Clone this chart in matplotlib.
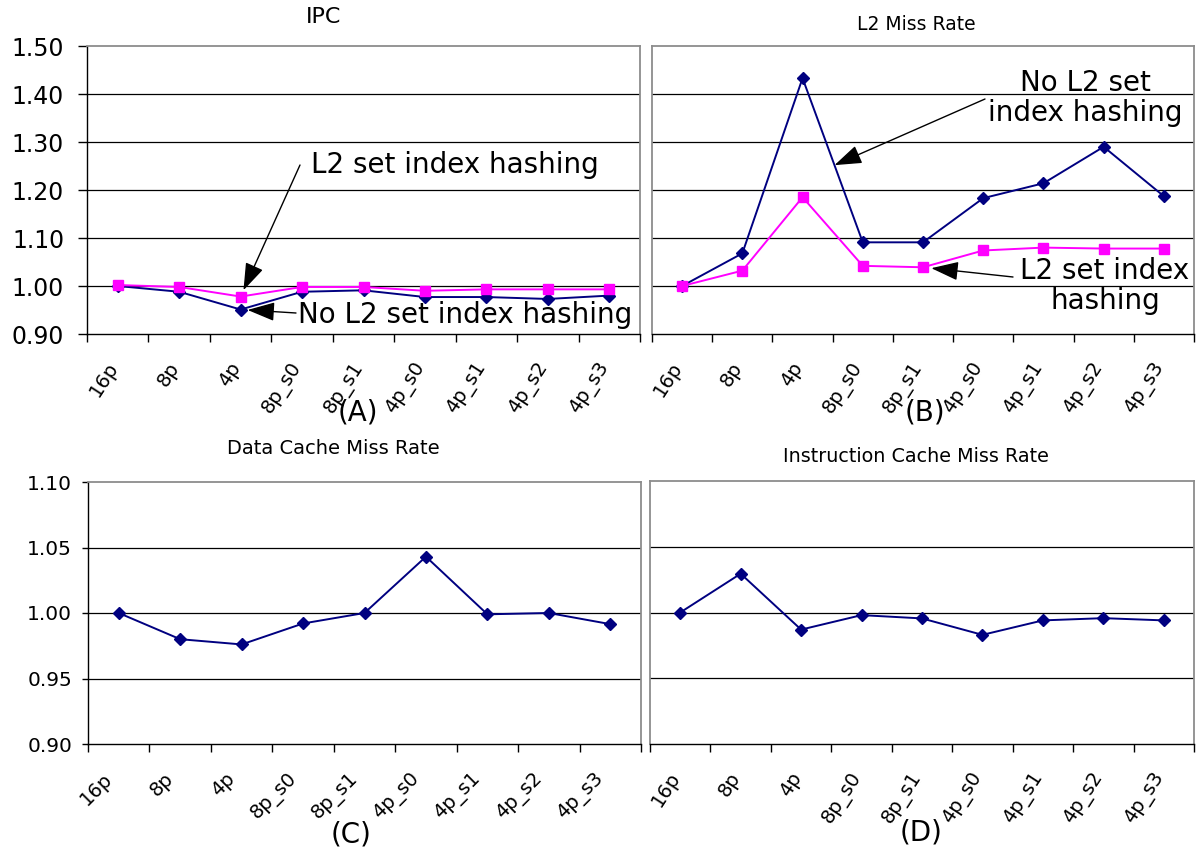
import numpy as np
import matplotlib
matplotlib.use("Agg")
import matplotlib.pyplot as plt
import matplotlib.transforms as mtrans

W, H = 1196, 851

categories = ["16p", "8p", "4p", "8p_s0", "8p_s1", "4p_s0", "4p_s1", "4p_s2", "4p_s3"]

ipc_no_hash = [1.000, 0.988, 0.951, 0.988, 0.991, 0.977, 0.977, 0.973, 0.980]
ipc_hash = [1.002, 0.998, 0.978, 0.998, 0.998, 0.990, 0.993, 0.993, 0.993]

l2_no_hash = [1.000, 1.068, 1.433, 1.091, 1.091, 1.183, 1.214, 1.290, 1.187]
l2_hash = [1.000, 1.032, 1.185, 1.042, 1.039, 1.074, 1.080, 1.078, 1.078]

dcache = [1.000, 0.980, 0.976, 0.992, 1.000, 1.043, 0.999, 1.000, 0.9915]
icache = [1.000, 1.0295, 0.987, 0.998, 0.9955, 0.983, 0.994, 0.9957, 0.994]

top_yticks = [0.90, 1.00, 1.10, 1.20, 1.30, 1.40, 1.50]
bot_yticks = [0.90, 0.95, 1.00, 1.05, 1.10]

NAVY = "#000080"
MAGENTA = "#FF00FF"
GRAY = "#8c8c8c"

plt.rcParams['font.family'] = ['DejaVu Sans']

fig = plt.figure(figsize=(W / 100, H / 100), dpi=100)


def add_ax(l, t, r, b):
    return fig.add_axes([l / W, 1 - b / H, (r - l) / W, (b - t) / H])


def ftext(x, y, s, **kw):
    fig.text(x / W, 1 - y / H, s, **kw)


def style(ax, yticks, show_y, ylab_size, ytick_len, ypad, xlab_size, xpad, rot, xshift):
    n = len(categories)
    xs = np.arange(n) + 0.5
    ax.set_xlim(0, n)
    ax.set_ylim(yticks[0], yticks[-1])
    for v in yticks[1:-1]:
        ax.axhline(v, color="black", lw=0.9, zorder=1)
    ax.set_xticks(np.arange(n + 1))
    ax.set_xticklabels([])
    ax.set_xticks(xs, categories, minor=True)
    ax.tick_params(axis="x", which="major", direction="out", length=6, width=1, color="black")
    ax.tick_params(axis="x", which="minor", length=0, pad=xpad, labelsize=xlab_size)
    off = mtrans.ScaledTranslation(xshift / 100, 0, fig.dpi_scale_trans)
    for lbl in ax.get_xticklabels(minor=True):
        lbl.set_rotation(rot)
        lbl.set_ha("right")
        lbl.set_rotation_mode("anchor")
        lbl.set_transform(lbl.get_transform() + off)
    if show_y:
        ax.set_yticks(yticks, [f"{v:.2f}" for v in yticks])
        ax.tick_params(axis="y", direction="out", length=ytick_len, width=1,
                       labelsize=ylab_size, pad=ypad)
        ax.spines["left"].set_color("black")
        ax.spines["left"].set_linewidth(1.0)
    else:
        ax.set_yticks([])
        ax.spines["left"].set_color(GRAY)
        ax.spines["left"].set_linewidth(1.3)
    ax.spines["bottom"].set_color("black")
    ax.spines["bottom"].set_linewidth(1.0)
    for s in ("top", "right"):
        ax.spines[s].set_color(GRAY)
        ax.spines[s].set_linewidth(1.3)
    return xs


arrow_kw = dict(arrowstyle="-|>,head_length=1.3,head_width=0.45", color="black",
                lw=1.0, mutation_scale=13, shrinkA=0)

# (A) IPC
axA = add_ax(87, 46, 640, 334)
xs = style(axA, top_yticks, True, 17, 6.5, 10, 14, 18, 57, -12)
axA.plot(xs, ipc_no_hash, color=NAVY, lw=1.4, marker="D", ms=6, zorder=3)
axA.plot(xs, ipc_hash, color=MAGENTA, lw=1.4, marker="s", ms=7.5, zorder=4)
axA.annotate("", xy=(xs[2], ipc_hash[2]), xytext=(300, H - 165), textcoords="figure pixels",
             arrowprops=dict(shrinkB=5, **arrow_kw))
axA.annotate("", xy=(xs[2], ipc_no_hash[2]), xytext=(296, H - 313), textcoords="figure pixels",
             arrowprops=dict(shrinkB=5, **arrow_kw))
ftext(311, 165, "L2 set index hashing", fontsize=20, ha="left", va="center")
ftext(298, 315, "No L2 set index hashing", fontsize=20, ha="left", va="center")

# (B) L2 miss rate
axB = add_ax(652, 46, 1194, 334)
xs = style(axB, top_yticks, False, 17, 6.5, 10, 14, 18, 57, -12)
axB.plot(xs, l2_no_hash, color=NAVY, lw=1.4, marker="D", ms=6, zorder=3)
axB.plot(xs, l2_hash, color=MAGENTA, lw=1.4, marker="s", ms=7.5, zorder=4)
t = 0.53
hx = xs[2] + t * (xs[3] - xs[2])
hy = l2_no_hash[2] + t * (l2_no_hash[3] - l2_no_hash[2])
axB.annotate("", xy=(hx, hy), xytext=(985, H - 99), textcoords="figure pixels",
             arrowprops=dict(shrinkB=0, **arrow_kw))
axB.annotate("", xy=(xs[4], l2_hash[4]), xytext=(1013, H - 277), textcoords="figure pixels",
             arrowprops=dict(shrinkB=6, **arrow_kw))
ftext(1085, 98, "No L2 set\nindex hashing", fontsize=20, ha="center", va="center",
      multialignment="center", linespacing=1.1)
ftext(1105, 286, "L2 set index\nhashing", fontsize=20, ha="center", va="center",
      multialignment="center", linespacing=1.1)

# (C) Data cache miss rate
axC = add_ax(88, 482, 641, 744)
xs = style(axC, bot_yticks, True, 14.5, 4.5, 7, 14, 18, 45, -16)
axC.plot(xs, dcache, color=NAVY, lw=1.4, marker="D", ms=6, zorder=3)

# (D) Instruction cache miss rate
axD = add_ax(650, 481, 1194, 744)
xs = style(axD, bot_yticks, False, 14.5, 4.5, 7, 14, 18, 57, -12)
axD.plot(xs, icache, color=NAVY, lw=1.4, marker="D", ms=6, zorder=3)

# Titles and panel labels
ftext(324, 17, "IPC", fontsize=16, ha="center", va="center")
ftext(916, 25, "L2 Miss Rate", fontsize=13.5, ha="center", va="center")
ftext(333, 449, "Data Cache Miss Rate", fontsize=14, ha="center", va="center")
ftext(916, 457, "Instruction Cache Miss Rate", fontsize=13.8, ha="center", va="center")
ftext(358, 412, "(A)", fontsize=20, ha="center", va="center")
ftext(925, 412, "(B)", fontsize=20, ha="center", va="center")
ftext(351, 834, "(C)", fontsize=20, ha="center", va="center")
ftext(921, 832, "(D)", fontsize=20, ha="center", va="center")

fig.savefig("out.png", dpi=100)
